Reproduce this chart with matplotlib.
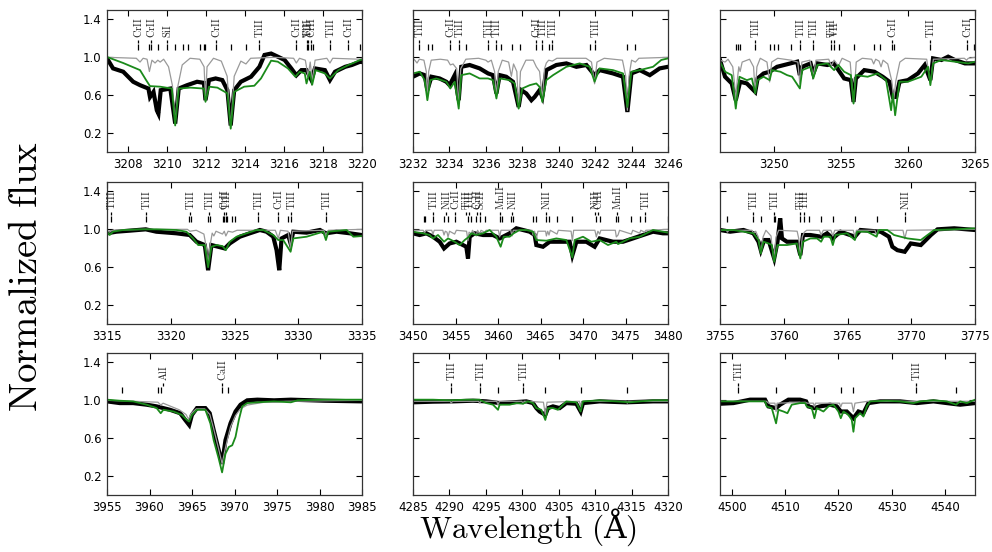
import numpy as np
import matplotlib.pyplot as plt
from matplotlib.ticker import FormatStrFormatter

plt.rcParams['mathtext.fontset'] = 'cm'

# ---- 3207-3220 ----
obs1 = [(3207.0,0.972),(3207.26,0.883),(3207.78,0.848),(3208.29,0.742),(3208.64,0.706),(3209.07,0.67),
        (3209.15,0.58),(3209.33,0.635),(3209.50,0.44),(3209.58,0.405),(3209.70,0.653),(3210.19,0.67),
        (3210.44,0.30),(3210.62,0.67),(3211.05,0.706),(3211.56,0.742),(3211.91,0.73),(3211.99,0.547),
        (3212.17,0.76),(3212.51,0.777),(3212.85,0.76),(3213.11,0.653),(3213.28,0.28),(3213.46,0.653),
        (3213.80,0.742),(3214.32,0.795),(3214.75,0.90),(3215.01,1.025),(3215.35,1.04),(3215.69,1.007),
        (3216.04,0.972),(3216.38,0.883),(3216.64,0.81),(3216.90,0.865),(3217.16,0.865),(3217.41,0.76),
        (3217.59,0.883),(3218.10,0.865),(3218.36,0.76),(3218.62,0.848),(3219.14,0.90),(3219.48,0.919),
        (3219.91,0.954),(3220.0,0.95)]
mod1 = [(3207.0,1.0),(3208.45,0.99),(3208.64,0.95),(3208.8,0.99),(3209.0,0.98),(3209.12,0.85),(3209.25,0.97),
        (3209.41,0.94),(3209.55,0.97),(3209.67,0.95),(3209.85,0.98),(3210.1,0.9),(3210.3,0.7),(3210.44,0.30),
        (3210.58,0.7),(3210.8,0.92),(3211.2,0.99),(3211.7,0.98),(3211.92,0.9),(3211.99,0.55),(3212.07,0.9),
        (3212.4,0.99),(3212.8,0.96),(3213.1,0.8),(3213.28,0.25),(3213.46,0.8),(3213.8,0.96),(3214.06,0.93),
        (3214.3,0.99),(3215.5,1.0),(3216.5,0.99),(3216.64,0.94),(3216.8,0.99),(3217.1,0.97),(3217.24,0.80),
        (3217.35,0.95),(3217.45,0.75),(3217.6,0.97),(3218.2,0.99),(3218.36,0.94),(3218.5,0.99),(3219.9,0.98),
        (3220.0,0.99)]
syn1 = [(3207.0,1.0),(3207.78,0.94),(3208.64,0.865),(3208.95,0.76),(3209.15,0.696),(3209.67,0.69),(3210.27,0.67),
        (3210.44,0.28),(3210.62,0.67),(3211.22,0.68),(3211.91,0.67),(3211.99,0.53),(3212.17,0.69),(3212.60,0.68),
        (3213.11,0.62),(3213.28,0.246),(3213.46,0.635),(3213.97,0.69),(3214.49,0.70),(3214.83,0.777),
        (3215.35,0.965),(3215.69,0.954),(3216.21,0.883),(3216.59,0.795),(3216.81,0.848),(3217.07,0.83),
        (3217.16,0.724),(3217.33,0.848),(3217.45,0.71),(3217.62,0.865),(3218.10,0.83),(3218.36,0.777),
        (3218.79,0.865),(3219.31,0.919),(3219.91,0.972),(3220.0,0.975)]
lines1 = [3208.55,3209.12,3209.20,3209.58,3210.01,3210.44,3210.84,3211.08,3211.70,3211.91,3211.99,3212.51,
          3213.28,3214.06,3214.75,3216.64,3217.16,3217.24,3217.38,3217.50,3218.36,3219.27,3219.91]
labels1 = [(3208.55,'CrII'),(3209.20,'CrII'),(3210.01,'SiI'),(3212.51,'CrII'),(3214.75,'TiII'),
           (3216.64,'CrII'),(3217.16,'TiII'),(3217.24,'VII'),(3217.40,'CrII'),(3218.36,'TiII'),(3219.27,'CrII')]

# ---- 3232-3246 ----
obs2 = [(3232.00,0.795),(3232.37,0.83),(3232.64,0.812),(3232.79,0.653),(3233.01,0.795),(3233.46,0.777),
        (3233.83,0.742),(3234.01,0.706),(3234.29,0.812),(3234.51,0.547),(3234.65,0.90),(3235.11,0.919),
        (3235.66,0.883),(3236.12,0.83),(3236.39,0.812),(3236.58,0.618),(3236.76,0.812),(3237.12,0.795),
        (3237.49,0.742),(3237.80,0.476),(3237.95,0.653),(3238.22,0.618),(3238.50,0.547),(3238.68,0.582),
        (3238.95,0.653),(3239.10,0.582),(3239.32,0.865),(3239.87,0.919),(3240.42,0.936),(3240.97,0.90),
        (3241.52,0.919),(3241.97,0.812),(3242.25,0.865),(3242.98,0.83),(3243.53,0.795),(3243.77,0.423),
        (3243.99,0.83),(3244.45,0.865),(3245.00,0.812),(3245.54,0.883),(3246.00,0.90)]
mod2 = [(3232.0,0.99),(3232.1,0.97),(3232.22,0.94),(3232.35,0.98),(3232.6,0.97),(3232.73,0.85),(3232.79,0.55),
        (3232.86,0.85),(3233.0,0.97),(3233.5,0.98),(3233.9,0.97),(3234.05,0.92),(3234.2,0.93),(3234.4,0.88),
        (3234.51,0.48),(3234.62,0.88),(3234.9,0.98),(3235.6,0.99),(3236.0,0.97),(3236.12,0.95),(3236.3,0.97),
        (3236.48,0.85),(3236.58,0.58),(3236.68,0.85),(3236.9,0.97),(3237.25,0.95),(3237.40,0.80),(3237.52,0.93),
        (3237.7,0.85),(3237.80,0.46),(3237.9,0.85),(3238.2,0.97),(3238.6,0.97),(3238.77,0.9),(3238.95,0.85),
        (3239.10,0.55),(3239.22,0.88),(3239.32,0.94),(3239.45,0.97),(3239.65,0.96),(3239.9,0.99),(3241.5,0.99),
        (3241.8,0.95),(3241.97,0.72),(3242.1,0.95),(3242.5,0.99),(3243.5,0.97),(3243.68,0.8),(3243.77,0.44),
        (3243.86,0.8),(3244.0,0.97),(3244.21,0.95),(3244.4,0.99),(3246.0,1.0)]
syn2 = [(3232.00,0.83),(3232.37,0.848),(3232.64,0.759),(3232.79,0.547),(3232.95,0.759),(3233.28,0.777),
        (3233.83,0.742),(3234.05,0.671),(3234.29,0.742),(3234.51,0.458),(3234.65,0.812),(3235.11,0.83),
        (3235.66,0.777),(3236.12,0.777),(3236.39,0.759),(3236.58,0.565),(3236.76,0.777),(3237.31,0.759),
        (3237.58,0.724),(3237.80,0.458),(3238.00,0.671),(3238.41,0.706),(3238.77,0.724),(3238.95,0.688),
        (3239.10,0.529),(3239.32,0.759),(3239.69,0.812),(3240.42,0.90),(3241.15,0.936),(3241.70,0.90),
        (3241.97,0.742),(3242.25,0.883),(3242.98,0.865),(3243.53,0.83),(3243.77,0.476),(3243.99,0.848),
        (3244.45,0.865),(3245.18,0.90),(3245.63,0.972),(3246.00,0.989)]
lines2 = [3232.33,3232.82,3233.04,3234.05,3234.51,3234.93,3236.12,3236.58,3236.85,3237.44,3237.86,
          3238.77,3239.10,3239.45,3239.65,3241.70,3241.97,3243.77,3244.21]
labels2 = [(3232.33,'TiII'),(3234.05,'CrII'),(3234.51,'TiII'),(3236.12,'TiII'),(3236.58,'TiII'),
           (3238.77,'CrII'),(3239.10,'TiII'),(3239.65,'TiII'),(3241.97,'TiII')]

# ---- 3246-3265 ----
obs3 = [(3246.0,0.972),(3246.375,0.795),(3246.875,0.724),(3247.175,0.547),(3247.5,0.742),(3248.0,0.724),
        (3248.625,0.635),(3248.8,0.777),(3249.25,0.83),(3249.7,0.848),(3250.25,0.90),(3251.25,0.936),
        (3251.75,0.954),(3251.95,0.812),(3252.125,0.90),(3252.75,0.936),(3252.95,0.83),(3253.25,0.936),
        (3254.0,0.919),(3254.5,0.936),(3254.825,0.865),(3255.25,0.777),(3255.75,0.759),(3255.95,0.529),
        (3256.125,0.777),(3256.75,0.865),(3257.5,0.848),(3258.125,0.795),(3258.625,0.742),(3258.875,0.582),
        (3259.125,0.582),(3259.375,0.742),(3260.0,0.759),(3260.75,0.83),(3261.25,0.919),(3261.675,0.759),
        (3261.875,0.989),(3262.5,0.972),(3263.0,1.007),(3263.5,0.972),(3264.25,0.936),(3265.0,0.936)]
mod3 = [(3246.0,0.97),(3246.375,0.95),(3246.6,0.98),(3246.95,0.9),(3247.1,0.7),(3247.175,0.51),(3247.28,0.75),
        (3247.4,0.9),(3247.5,0.85),(3247.65,0.95),(3248.2,0.98),(3248.5,0.9),(3248.625,0.62),(3248.75,0.9),
        (3249.0,0.99),(3249.5,0.95),(3249.7,0.74),(3249.85,0.95),(3250.3,0.99),(3251.3,0.97),(3251.8,0.95),
        (3251.95,0.72),(3252.1,0.95),(3252.7,0.97),(3252.95,0.80),(3253.15,0.97),(3254.1,0.98),(3254.3,0.91),
        (3254.5,0.97),(3254.825,0.91),(3255.1,0.99),(3255.7,0.95),(3255.95,0.51),(3256.15,0.95),(3256.6,0.99),
        (3257.3,0.98),(3257.45,0.93),(3257.6,0.98),(3257.85,0.96),(3258.0,0.90),(3258.15,0.97),(3258.5,0.93),
        (3258.8,0.75),(3258.95,0.56),(3259.1,0.75),(3259.4,0.95),(3259.8,0.99),(3261.4,0.98),(3261.675,0.72),
        (3261.9,0.98),(3264.2,0.99),(3264.375,0.97),(3264.5,0.99),(3265.0,1.0)]
syn3 = [(3246.0,0.954),(3246.375,0.848),(3246.875,0.812),(3247.175,0.458),(3247.45,0.795),(3248.0,0.759),
        (3248.375,0.777),(3248.625,0.618),(3248.8,0.759),(3249.25,0.795),(3249.7,0.759),(3249.875,0.865),
        (3250.5,0.848),(3251.0,0.812),(3251.375,0.795),(3251.95,0.671),(3252.125,0.865),(3252.75,0.90),
        (3252.95,0.777),(3253.25,0.919),(3254.0,0.936),(3254.5,0.865),(3254.825,0.919),(3255.25,0.848),
        (3255.75,0.812),(3255.95,0.512),(3256.125,0.812),(3257.0,0.795),(3257.75,0.83),(3258.375,0.759),
        (3258.75,0.441),(3258.875,0.618),(3259.05,0.388),(3259.375,0.742),(3260.0,0.742),(3261.0,0.795),
        (3261.5,0.90),(3261.675,0.706),(3261.875,0.936),(3262.5,0.972),(3263.5,0.954),(3264.5,0.936),
        (3265.0,0.954)]
lines3 = [3247.18,3247.33,3247.50,3248.63,3249.70,3250.0,3250.33,3251.30,3251.95,3252.95,3254.30,3254.50,
          3254.83,3255.95,3257.45,3257.95,3258.80,3258.95,3261.68,3264.38,3264.95]
labels3 = [(3248.63,'TiII'),(3251.95,'TiII'),(3252.95,'TiII'),(3254.30,'TiII'),(3254.50,'VII'),
           (3258.80,'CrII'),(3261.68,'TiII'),(3264.38,'CrII')]

# ---- 3315-3335 ----
obs4 = [(3315.0,0.958),(3315.73,0.975),(3316.78,0.986),(3318.04,1.0),(3318.87,0.975),(3320.45,0.958),
        (3321.49,0.94),(3322.02,0.869),(3322.67,0.834),(3322.93,0.568),(3323.19,0.834),(3323.72,0.816),
        (3324.24,0.798),(3324.63,0.851),(3325.42,0.922),(3326.20,0.958),(3326.99,0.993),(3327.51,0.975),
        (3328.04,0.922),(3328.30,0.78),(3328.51,0.568),(3328.69,0.904),(3329.21,0.94),(3329.40,0.851),
        (3329.61,0.975),(3330.65,0.965),(3331.70,0.993),(3332.17,0.958),(3333.01,0.975),(3334.06,0.958),
        (3334.97,0.94)]
mod4 = [(3315.0,0.99),(3315.21,0.97),(3315.4,0.99),(3318.0,1.0),(3321.3,1.0),(3321.5,0.98),(3322.0,0.99),
        (3322.6,0.95),(3322.8,0.8),(3322.93,0.62),(3323.05,0.8),(3323.25,0.96),(3323.38,0.93),(3323.55,0.98),
        (3324.06,0.95),(3324.2,0.98),(3324.32,0.93),(3324.5,0.98),(3324.84,0.97),(3325.2,0.99),(3328.2,0.99),
        (3328.43,0.905),(3328.6,0.99),(3329.2,0.98),(3329.4,0.80),(3329.55,0.98),(3332.0,0.99),(3332.17,0.94),
        (3332.35,0.99),(3335.0,1.0)]
syn4 = [(3315.0,0.975),(3315.21,0.94),(3315.47,0.975),(3316.26,0.993),(3317.57,1.0),(3318.87,1.0),
        (3320.45,0.993),(3321.23,0.975),(3321.75,0.904),(3322.15,0.834),(3322.67,0.834),(3322.93,0.60),
        (3323.19,0.816),(3323.59,0.834),(3324.06,0.823),(3324.32,0.78),(3324.63,0.869),(3325.16,0.922),
        (3325.94,0.958),(3326.73,0.993),(3327.25,0.993),(3328.04,0.94),(3328.43,0.887),(3328.82,0.887),
        (3329.40,0.763),(3329.61,0.904),(3330.65,0.922),(3331.96,0.975),(3332.17,0.887),(3332.36,0.975),
        (3333.80,0.993),(3334.32,0.922),(3334.97,0.929)]
lines4 = [3315.34,3318.04,3321.44,3321.57,3322.93,3323.06,3324.06,3324.19,3324.32,3324.45,3324.84,3325.03,
          3326.81,3328.43,3329.21,3329.40,3332.17]
labels4 = [(3315.34,'TiII'),(3318.04,'TiII'),(3321.50,'TiII'),(3323.00,'TiII'),(3324.15,'CrII'),
           (3324.32,'TiII'),(3326.81,'TiII'),(3328.43,'CrII'),(3329.40,'TiII'),(3332.17,'TiII')]

# ---- 3450-3480 ----
obs5 = [(3450.0,0.958),(3450.78,0.94),(3451.57,0.958),(3452.35,0.922),(3453.14,0.869),(3453.65,0.798),
        (3454.31,0.851),(3455.10,0.869),(3455.88,0.834),(3456.27,0.816),(3456.47,0.692),(3456.67,0.922),
        (3457.25,0.958),(3458.24,0.94),(3459.41,0.94),(3460.20,0.904),(3460.59,0.922),(3461.37,0.958),
        (3462.16,1.011),(3462.94,0.993),(3463.73,0.975),(3464.31,0.94),(3464.51,0.834),(3465.29,0.816),
        (3466.08,0.869),(3467.25,0.869),(3468.43,0.869),(3468.75,0.727),(3469.22,0.869),(3470.39,0.869),
        (3471.37,0.816),(3471.96,0.904),(3473.53,0.869),(3474.71,0.869),(3475.88,0.904),(3477.06,0.94),
        (3478.24,0.975),(3479.41,0.958),(3480.0,0.958)]
mod5 = [(3450.0,0.99),(3451.2,0.99),(3451.35,0.96),(3451.5,0.99),(3452.2,0.99),(3452.35,0.95),(3452.5,0.99),
        (3453.5,0.99),(3453.65,0.94),(3453.8,0.98),(3454.0,0.97),(3454.12,0.92),(3454.3,0.98),(3454.9,0.95),
        (3455.1,0.99),(3456.3,0.98),(3456.47,0.88),(3456.6,0.97),(3456.86,0.95),(3457.0,0.99),(3457.45,0.93),
        (3457.6,0.99),(3457.84,0.95),(3458.0,0.99),(3458.43,0.97),(3458.6,0.99),(3460.05,0.99),(3460.2,0.92),
        (3460.35,0.99),(3461.5,0.99),(3461.65,0.93),(3461.8,0.99),(3464.0,0.99),(3464.12,0.94),(3464.3,0.98),
        (3464.51,0.90),(3464.7,0.98),(3465.6,0.98),(3465.69,0.93),(3465.85,0.98),(3466.0,0.94),(3466.15,0.99),
        (3466.94,0.95),(3467.1,0.99),(3468.6,0.98),(3468.75,0.88),(3468.9,0.99),(3471.4,0.99),(3471.57,0.92),
        (3471.75,0.98),(3471.96,0.95),(3472.1,0.99),(3473.8,0.99),(3473.92,0.92),(3474.12,0.94),(3474.3,0.99),
        (3475.69,0.95),(3475.85,0.99),(3476.67,0.96),(3476.8,0.99),(3477.25,0.97),(3477.4,0.99),(3480.0,1.0)]
syn5 = [(3450.0,0.975),(3451.18,0.958),(3451.96,0.94),(3452.35,0.904),(3452.94,0.94),(3453.65,0.869),
        (3454.12,0.904),(3454.90,0.869),(3455.49,0.834),(3456.08,0.887),(3456.59,0.922),(3456.86,0.958),
        (3457.45,0.94),(3458.24,0.958),(3459.02,0.993),(3459.80,0.922),(3460.31,0.816),(3460.67,0.922),
        (3461.37,0.922),(3461.84,0.958),(3462.55,0.993),(3463.33,0.993),(3464.12,0.975),(3464.51,0.887),
        (3465.69,0.88),(3466.86,0.904),(3468.04,0.887),(3468.75,0.703),(3469.02,0.887),(3470.0,0.922),
        (3470.98,0.869),(3471.96,0.887),(3472.94,0.834),(3473.92,0.869),(3474.12,0.844),(3475.49,0.904),
        (3476.67,0.922),(3478.24,0.993),(3479.41,0.975),(3480.0,0.965)]
lines5 = [3451.25,3451.45,3452.35,3453.65,3454.12,3454.90,3456.47,3456.86,3457.45,3457.84,3458.43,3460.20,
          3460.51,3461.57,3461.76,3464.12,3464.51,3465.69,3466.00,3466.94,3468.75,3471.57,3471.96,3473.92,
          3474.12,3475.69,3476.67,3477.25,3480.0]
labels5 = [(3452.35,'TiII'),(3453.90,'NiII'),(3454.90,'CrII'),(3456.27,'TiII'),(3456.60,'TiII'),
           (3457.50,'CrII'),(3457.84,'ScII'),(3460.20,'MnII'),(3461.70,'NiII'),(3465.69,'NiII'),
           (3471.37,'NiII'),(3471.76,'CrII'),(3474.00,'MnII'),(3477.25,'TiII')]

# ---- 3755-3775 ----
obs6 = [(3755.0,0.993),(3755.79,0.975),(3756.84,0.993),(3757.62,0.958),(3758.02,0.869),(3758.20,0.78),
        (3758.46,0.887),(3758.81,0.887),(3759.25,0.692),(3759.51,0.869),(3759.72,1.117),(3759.86,0.904),
        (3760.25,0.869),(3761.04,0.869),(3761.30,0.727),(3761.51,0.94),(3762.09,0.94),(3762.93,0.922),
        (3763.40,0.958),(3763.85,0.904),(3764.45,0.975),(3765.58,0.922),(3766.02,0.993),(3767.60,0.975),
        (3768.25,0.922),(3768.52,0.816),(3768.91,0.78),(3769.49,0.763),(3769.96,0.851),(3770.75,0.834),
        (3771.54,0.94),(3772.06,1.0),(3773.37,1.011),(3775.0,0.993)]
mod6 = [(3755.0,0.99),(3755.5,0.99),(3755.58,0.97),(3755.7,0.99),(3757.5,0.99),(3757.62,0.96),(3757.8,0.98),
        (3758.0,0.92),(3758.2,0.75),(3758.38,0.92),(3758.6,0.99),(3759.0,0.93),(3759.2,0.68),(3759.4,0.92),
        (3759.6,0.99),(3761.05,0.98),(3761.18,0.9),(3761.30,0.70),(3761.45,0.92),(3761.61,0.97),(3761.8,0.99),
        (3762.8,0.99),(3762.93,0.94),(3763.1,0.99),(3763.7,0.99),(3763.85,0.93),(3764.0,0.99),(3765.45,0.99),
        (3765.58,0.92),(3765.7,0.99),(3767.15,0.99),(3767.28,0.94),(3767.4,0.99),(3769.35,0.99),(3769.49,0.90),
        (3769.65,0.99),(3775.0,1.0)]
syn6 = [(3755.0,0.993),(3756.05,0.993),(3756.84,0.975),(3757.62,0.958),(3758.02,0.887),(3758.20,0.745),
        (3758.41,0.869),(3758.81,0.851),(3759.07,0.834),(3759.25,0.657),(3759.51,0.834),(3760.25,0.834),
        (3761.04,0.851),(3761.30,0.692),(3761.51,0.869),(3762.09,0.904),(3762.61,0.904),(3762.93,0.869),
        (3763.14,0.922),(3763.66,0.922),(3763.85,0.834),(3764.06,0.94),(3764.97,0.958),(3765.58,0.887),
        (3765.76,0.975),(3766.55,0.975),(3767.28,0.922),(3767.47,0.993),(3768.12,0.993),(3768.65,0.94),
        (3769.17,0.922),(3769.70,0.904),(3770.75,0.887),(3771.80,0.993),(3773.37,1.0),(3775.0,1.011)]
lines6 = [3755.58,3757.62,3758.20,3759.20,3759.33,3761.30,3761.61,3761.96,3762.93,3763.85,3765.58,3767.28,3769.49]
labels6 = [(3757.62,'TiII'),(3759.27,'TiII'),(3761.30,'TiII'),(3761.61,'TiII'),(3769.49,'NiII')]

# ---- 3955-3985 ----
obs7 = [(3955.0,0.989),(3956.50,0.971),(3958.08,0.971),(3959.66,0.954),(3960.84,0.936),(3962.42,0.90),
        (3963.61,0.864),(3964.20,0.793),(3964.67,0.739),(3964.99,0.846),(3965.58,0.918),(3966.57,0.918),
        (3967.08,0.864),(3967.55,0.686),(3968.15,0.471),(3968.54,0.329),(3968.94,0.579),(3969.53,0.757),
        (3970.12,0.882),(3970.71,0.954),(3971.50,1.0),(3972.69,1.007),(3974.66,1.0),(3976.63,1.007),
        (3980.58,0.996),(3985.0,0.989)]
mod7 = [(3955.0,1.0),(3958.0,0.99),(3961.0,0.98),(3961.32,0.95),(3961.6,0.97),(3963.5,0.9),(3964.3,0.85),
        (3964.6,0.80),(3964.9,0.86),(3965.5,0.91),(3966.5,0.91),(3967.1,0.85),(3967.55,0.70),(3968.15,0.48),
        (3968.54,0.33),(3968.94,0.50),(3969.53,0.72),(3970.12,0.84),(3970.71,0.91),(3971.5,0.95),(3973.5,0.98),
        (3976.0,0.99),(3985.0,1.0)]
syn7 = [(3955.0,1.007),(3956.50,0.996),(3958.08,0.989),(3959.66,0.954),(3960.84,0.918),(3961.32,0.864),
        (3961.63,0.90),(3962.82,0.882),(3963.80,0.846),(3964.40,0.793),(3964.67,0.775),(3964.99,0.846),
        (3965.58,0.90),(3966.57,0.90),(3967.16,0.757),(3967.55,0.579),(3968.15,0.382),(3968.54,0.239),
        (3968.94,0.436),(3969.33,0.507),(3969.73,0.525),(3970.12,0.614),(3970.51,0.793),(3970.91,0.936),
        (3971.50,0.971),(3972.69,0.979),(3974.66,0.989),(3976.63,0.979),(3977.42,1.0),(3980.58,1.007),
        (3985.0,1.007)]
lines7 = [3956.78,3961.04,3961.32,3968.54,3969.25]
labels7 = [(3961.55,'AlI'),(3968.54,'CaII')]

# ---- 4285-4320 ----
obs8 = [(4285.0,0.979),(4287.74,0.986),(4290.49,0.989),(4293.23,0.996),(4295.06,0.989),(4296.89,0.971),
        (4298.72,0.979),(4300.55,0.989),(4301.47,0.971),(4301.93,0.918),(4302.38,0.882),(4303.16,0.846),
        (4303.53,0.918),(4304.21,0.936),(4305.13,0.918),(4306.04,0.971),(4307.42,0.964),(4308.01,0.882),
        (4308.33,0.971),(4310.62,0.989),(4314.28,0.979),(4317.94,0.989),(4320.0,0.989)]
mod8 = [(4285.0,0.99),(4290.1,0.99),(4290.26,0.97),(4290.4,0.99),(4294.0,0.99),(4294.15,0.97),(4294.3,0.99),
        (4296.5,0.99),(4296.67,0.95),(4296.85,0.99),(4299.95,0.99),(4300.10,0.96),(4300.25,0.99),(4302.9,0.98),
        (4303.16,0.85),(4303.4,0.98),(4307.85,0.99),(4308.01,0.93),(4308.2,0.99),(4314.25,0.99),(4314.41,0.97),
        (4314.55,0.99),(4320.0,0.99)]
syn8 = [(4285.0,1.007),(4287.74,1.007),(4290.03,1.0),(4292.32,1.007),(4294.15,1.007),(4295.06,0.971),
        (4295.98,0.954),(4296.67,0.90),(4296.89,0.954),(4298.27,0.954),(4299.18,0.971),(4300.10,0.964),
        (4300.78,0.989),(4301.47,0.971),(4301.93,0.918),(4302.61,0.90),(4303.16,0.793),(4303.53,0.918),
        (4304.21,0.918),(4304.90,0.90),(4305.36,0.936),(4306.04,0.989),(4307.42,0.979),(4308.01,0.882),
        (4308.33,0.989),(4310.62,1.0),(4312.90,0.989),(4314.73,0.979),(4316.11,0.989),(4317.94,1.0),(4320.0,1.0)]
lines8 = [4290.26,4294.15,4296.67,4300.10,4303.16,4308.01,4314.41]
labels8 = [(4290.26,'TiII'),(4294.15,'TiII'),(4300.10,'TiII')]

# ---- 4498-4545 ----
obs9 = [(4497.81,0.964),(4500.31,0.971),(4503.44,1.007),(4506.25,1.007),(4506.88,0.936),(4508.31,0.918),
        (4509.06,0.954),(4510.63,1.007),(4512.81,1.007),(4513.94,0.989),(4514.38,0.936),(4515.50,0.918),
        (4516.56,0.936),(4518.44,0.954),(4519.69,0.936),(4520.44,0.882),(4521.56,0.882),(4522.81,0.811),
        (4523.75,0.882),(4524.69,0.864),(4525.63,0.971),(4527.81,0.989),(4531.56,0.989),(4534.69,0.971),
        (4537.81,0.989),(4540.31,0.971),(4542.81,0.954),(4545.63,0.971)]
mod9 = [(4497.8,0.99),(4506.5,0.99),(4506.9,0.97),(4508.1,0.97),(4508.31,0.88),(4508.5,0.97),(4513.8,0.98),
        (4514.1,0.97),(4515.3,0.97),(4515.5,0.93),(4515.7,0.97),(4520.2,0.97),(4520.44,0.93),(4520.7,0.97),
        (4522.5,0.97),(4522.81,0.88),(4523.1,0.97),(4525.5,0.99),(4545.6,0.99)]
syn9 = [(4497.81,0.989),(4500.31,0.989),(4503.44,0.989),(4506.25,0.989),(4506.56,0.936),(4507.50,0.918),
        (4508.31,0.757),(4508.75,0.90),(4509.69,0.882),(4510.44,0.864),(4511.25,0.954),(4512.81,0.971),
        (4513.75,0.971),(4514.06,0.936),(4515.0,0.918),(4515.50,0.811),(4515.94,0.918),(4517.19,0.882),
        (4518.13,0.936),(4519.06,0.954),(4520.0,0.882),(4520.44,0.811),(4520.94,0.882),(4521.88,0.846),
        (4522.50,0.793),(4522.81,0.668),(4523.13,0.811),(4524.06,0.864),(4524.69,0.829),(4525.31,0.936),
        (4525.94,0.989),(4529.06,0.996),(4531.56,0.989),(4534.06,0.971),(4535.31,0.989),(4537.81,1.0),
        (4540.31,0.989),(4542.06,0.954),(4542.81,0.989),(4544.06,0.971),(4545.63,1.007)]
lines9 = [4501.13,4508.31,4515.50,4520.44,4522.81,4534.56,4542.06]
labels9 = [(4501.13,'TiII'),(4534.56,'TiII')]

panels = [
    (obs1, mod1, syn1, lines1, labels1, (3206.95, 3220.0), np.arange(3208, 3221, 2)),
    (obs2, mod2, syn2, lines2, labels2, (3232.0, 3246.0), np.arange(3232, 3247, 2)),
    (obs3, mod3, syn3, lines3, labels3, (3246.0, 3265.0), np.arange(3250, 3266, 5)),
    (obs4, mod4, syn4, lines4, labels4, (3315.0, 3335.0), np.arange(3315, 3336, 5)),
    (obs5, mod5, syn5, lines5, labels5, (3450.0, 3480.0), np.arange(3450, 3481, 5)),
    (obs6, mod6, syn6, lines6, labels6, (3755.0, 3775.0), np.arange(3755, 3776, 5)),
    (obs7, mod7, syn7, lines7, labels7, (3955.0, 3985.0), np.arange(3955, 3986, 5)),
    (obs8, mod8, syn8, lines8, labels8, (4285.0, 4320.0), np.arange(4285, 4321, 5)),
    (obs9, mod9, syn9, lines9, labels9, (4497.8, 4545.6), np.arange(4500, 4541, 10)),
]

fig = plt.figure(figsize=(9.92, 5.52), dpi=100)

lefts = [107, 413, 720]
tops = [10, 182, 353]
w_px, h_px = 255, 142

for i, (obs, mod, syn, lines, labels, xlim, xticks) in enumerate(panels):
    row, col = divmod(i, 3)
    ax = fig.add_axes([lefts[col] / 992, 1 - (tops[row] + h_px) / 552, w_px / 992, h_px / 552])

    o = np.array(obs)
    m = np.array(mod)
    s = np.array(syn)
    ax.plot(o[:, 0], o[:, 1], color='black', lw=3.0, solid_joinstyle='miter')
    ax.plot(m[:, 0], m[:, 1], color='#999999', lw=0.9)
    ax.plot(s[:, 0], s[:, 1], color='#1a8a1a', lw=1.3)

    # line identification ticks
    ax.vlines(lines, 1.08, 1.14, color='black', lw=0.9)
    for wl, name in labels:
        ax.vlines(wl, 1.155, 1.185, color='black', lw=0.9)
        ax.text(wl, 1.20, r'$\mathrm{%s}$' % name, rotation=90, ha='center', va='bottom',
                fontsize=7.5, color='#222222')

    ax.set_xlim(*xlim)
    ax.set_ylim(0, 1.5)
    ax.set_xticks(xticks)
    ax.xaxis.set_major_formatter(FormatStrFormatter('%d'))
    ax.set_yticks([0.2, 0.6, 1.0, 1.4])
    if col == 0:
        ax.set_yticklabels(['0.2', '0.6', '1.0', '1.4'])
    else:
        ax.set_yticklabels([])
    ax.tick_params(direction='in', top=True, right=True, length=4, width=0.8,
                   labelsize=8.5, pad=4)
    for sp in ax.spines.values():
        sp.set_linewidth(0.9)
        sp.set_color('#333333')

fig.text(0.026, 0.5, r'$\mathrm{Normalized\ flux}$', rotation=90, fontsize=28,
         ha='center', va='center')
fig.text(0.532, 0.045, r'$\mathrm{Wavelength\ (}$Å$\mathrm{)}$', fontsize=22.5,
         ha='center', va='center', family='DejaVu Serif')

fig.savefig('out.png', dpi=100)
